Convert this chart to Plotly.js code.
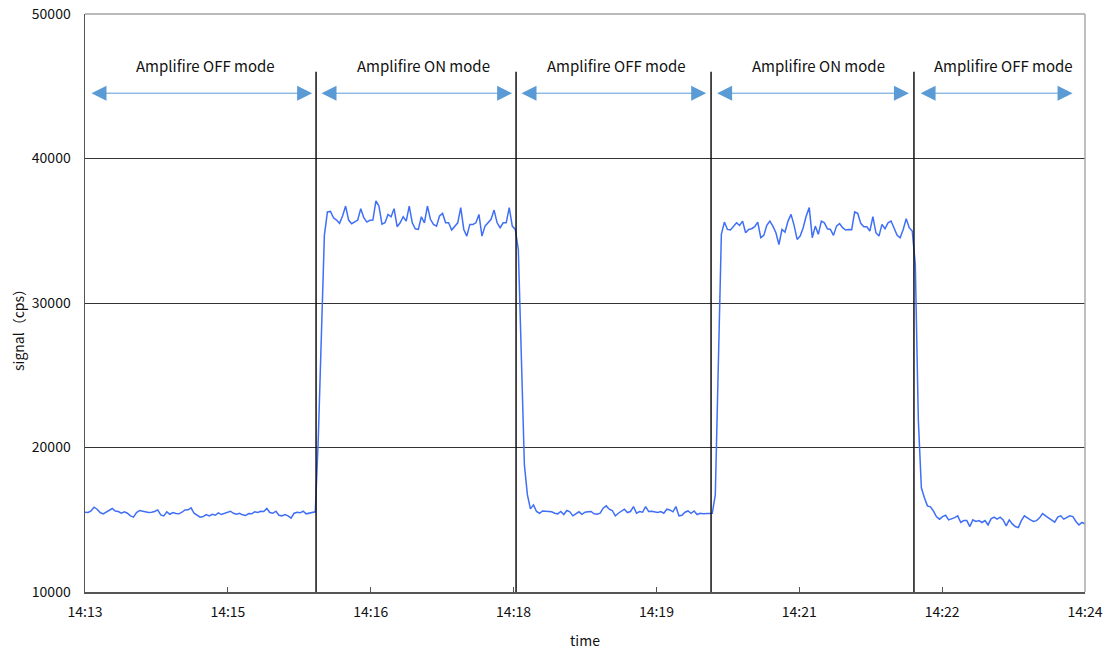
<!DOCTYPE html>
<html>
<head>
<meta charset="utf-8">
<script src="https://cdn.plot.ly/plotly-3.0.1.min.js"></script>
<style>html,body{margin:0;padding:0;background:#fff;}#chart{width:1109px;height:650px;}</style>
</head>
<body>
<div id="chart"></div>
<script>
// Sampling: one reading every 2 s, starting 14:13:00 (x in seconds after 14:13:00)
const startLabel = "14:13";
const sampleIntervalSec = 2;

// signal (cps)
const signalOff1 = [15520,15500,15615,15870,15730,15500,15410,15520,15680,15780,15600,15570,15450,15550,15450,15270,15180,15500,15640,15590,15520,15500,15520,15570,15680,15340,15270,15550,15380,15500,15430,15410,15520,15680,15690,15820,15450,15290,15180,15220,15360,15270,15380,15310,15480,15360,15450,15500,15590,15450,15380,15450,15340,15290,15430,15410,15550,15500,15590,15570,15780,15500,15450,15590,15310,15270,15360,15270,15110,15450,15520,15480,15590,15410,15450,15520,15550];
const signalRise1 = [20700,27800,34700];
const signalOn1 = [36300,36340,35900,35740,35510,36020,36710,35740,35490,35600,35740,36530,35900,35600,35720,35740,37060,36710,35460,35550,36130,35970,36530,35280,35550,35970,35670,36710,35550,35140,35090,35970,35550,36710,35790,35440,35320,36020,36200,35550,35550,35050,35280,35550,36600,35090,34630,35440,35440,35550,36130,34630,35320,35550,35790,36430,35550,35210,35550,35550,36600,35320,35090];
const signalFall1 = [33700,25390,18800,16720];
const signalOff2 = [15750,16030,15570,15450,15610,15590,15550,15550,15450,15410,15570,15360,15640,15550,15270,15410,15550,15380,15520,15550,15570,15410,15380,15450,15800,15960,15730,15640,15270,15450,15590,15730,15500,15570,15910,15450,15570,15520,15910,15570,15590,15520,15500,15570,15450,15730,15680,15550,15910,15270,15310,15520,15610,15450,15610,15360,15450,15410,15430,15480,15450];
const signalRise2 = [16720,25740,34750];
const signalOn2 = [35600,35090,35050,35320,35550,35370,35670,34860,35090,35140,35280,35600,34520,34680,35370,35670,35320,34860,34050,35090,34910,35670,36130,35370,34400,34630,35210,36020,36600,34520,35320,34750,35670,35550,35140,35090,34680,35320,35490,35210,35050,35090,35070,36300,36200,35510,35280,35280,34980,35970,34860,34630,35440,35140,35550,35670,35140,34680,34520,35090,35830,35210,34980];
const signalFall2 = [32670,21920,17210,16520];
const signalOff3 = [15960,15890,15600,15200,15040,15220,15310,14990,15060,15150,15270,14810,14940,14940,14530,14990,14880,14940,14810,14940,14640,15060,15180,15040,15180,14990,14580,14990,14710,14530,14460,14940,15270,15110,14990,14880,14940,15130,15430,15270,15110,14970,14830,15180,15270,15040,15150,15270,15220,14880,14640,14810,14710];

const signal = [].concat(signalOff1, signalRise1, signalOn1, signalFall1, signalOff2, signalRise2, signalOn2, signalFall2, signalOff3);
const timeSec = signal.map((_, i) => i * sampleIntervalSec);

// axis
const xTickSec = [0, 94.29, 188.57, 282.86, 377.14, 471.43, 565.71, 660];
const xTickLabels = ["14:13","14:15","14:16","14:18","14:19","14:21","14:22","14:24"];
const yTicks = [10000, 20000, 30000, 40000, 50000];
const xTitle = "time";
const yTitle = "signal（cps）";

// mode switching (seconds after 14:13:00) and mode labels
const switchSec = [152.5, 284.5, 413.2, 547.1];
const modeLabels = ["Amplifire OFF mode","Amplifire ON mode","Amplifire OFF mode","Amplifire ON mode","Amplifire OFF mode"];
const modeStartSec = [3.3, 155.1, 287.1, 416.2, 550.5];
const modeEndSec = [149.9, 281.9, 410.0, 543.8, 651.8];
const modeLabelSec = [79.2, 223.1, 351.1, 483.8, 605.9];
const switchLineTop = 46000;
const arrowLevel = 44520;
const labelLevel = 46420;

const FONT = '"Noto Sans CJK JP", "Liberation Sans", sans-serif';
const blueArrow = '#5B9BD5';

const shapes = [];
switchSec.forEach(s => shapes.push({type:'line', xref:'x', yref:'y', x0:s, x1:s, y0:10000, y1:switchLineTop, line:{color:'#111', width:1.5}}));
// frame: top/right light, left/bottom darker
shapes.push({type:'line', xref:'paper', yref:'paper', x0:0, x1:1, y0:1, y1:1, line:{color:'#777', width:1}});
shapes.push({type:'line', xref:'paper', yref:'paper', x0:1, x1:1, y0:0, y1:1, line:{color:'#aaa', width:1.5}});

const annotations = [];
modeLabels.forEach((t, k) => {
  annotations.push({x: modeLabelSec[k], y: labelLevel, xref:'x', yref:'y', text: t, showarrow:false,
    font:{family:FONT, size:15, color:'#111'}});
  annotations.push({x: modeEndSec[k], y: arrowLevel, ax: modeStartSec[k], ay: arrowLevel,
    xref:'x', yref:'y', axref:'x', ayref:'y', text:'', showarrow:true,
    arrowhead:2, startarrowhead:2, arrowside:'end+start', arrowsize:3, startarrowsize:3, arrowwidth:1,
    arrowcolor: blueArrow, standoff:0, startstandoff:0});
});
// y-axis title placed like the reference (slightly below the plot centre)
annotations.push({xref:'paper', yref:'paper', x:-0.067, y:0.4585, text:yTitle, textangle:-90, showarrow:false,
  xanchor:'center', yanchor:'middle', font:{family:FONT, size:14, color:'#111'}});

const trace = {x: timeSec, y: signal, type:'scatter', mode:'lines',
  line:{color:'#3F6FF7', width:1.5}, hoverinfo:'skip'};

const layout = {
  width:1109, height:650,
  margin:{l:85, r:24, t:14, b:58},
  paper_bgcolor:'#fff', plot_bgcolor:'#fff',
  font:{family:FONT, size:14, color:'#111'},
  showlegend:false,
  xaxis:{range:[0,660], tickmode:'array', tickvals:xTickSec, ticktext:xTickLabels,
    showgrid:false, zeroline:false, showline:true, linecolor:'#555', linewidth:1.5,
    ticks:'inside', ticklen:5, tickcolor:'#555', tickfont:{family:FONT, size:14, color:'#111'},
    ticklabelstandoff:7,
    title:{text:xTitle, font:{family:FONT, size:14, color:'#111'}, standoff:17}},
  yaxis:{range:[10000,50000], tickmode:'array', tickvals:yTicks, ticktext:yTicks.map(String),
    showgrid:true, gridcolor:'#333', gridwidth:1, zeroline:false, showline:true, linecolor:'#555', linewidth:1.5,
    ticks:'', tickfont:{family:FONT, size:14, color:'#111'}, ticklabelstandoff:10},
  shapes: shapes,
  annotations: annotations
};

Plotly.newPlot('chart', [trace], layout, {displayModeBar:false, staticPlot:true});
</script>
</body>
</html>
